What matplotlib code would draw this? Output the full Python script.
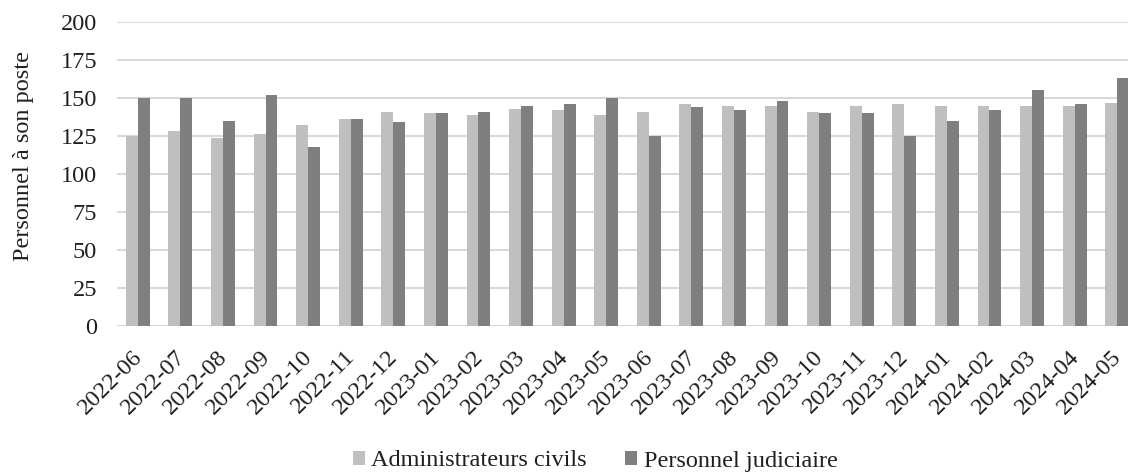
import matplotlib
matplotlib.use("Agg")
import matplotlib.pyplot as plt
import matplotlib.transforms as mtransforms
import numpy as np

months = ["2022-06", "2022-07", "2022-08", "2022-09", "2022-10", "2022-11", "2022-12",
          "2023-01", "2023-02", "2023-03", "2023-04", "2023-05", "2023-06", "2023-07",
          "2023-08", "2023-09", "2023-10", "2023-11", "2023-12", "2024-01", "2024-02",
          "2024-03", "2024-04", "2024-05"]
admin_civils = [125, 128, 124, 126, 132, 136, 141, 140, 139, 143, 142, 139, 141, 146,
                145, 145, 141, 145, 146, 145, 145, 145, 145, 147]
personnel_judiciaire = [150, 150, 135, 152, 118, 136, 134, 140, 141, 145, 146, 150, 125, 144,
                        142, 148, 140, 140, 125, 135, 142, 155, 146, 163]
yticks = [0, 25, 50, 75, 100, 125, 150, 175, 200]

plt.rcParams["font.family"] = ["Liberation Serif", "DejaVu Serif"]
FS = 17.5
TXT = "#1f1f1f"

fig = plt.figure(figsize=(11.28, 4.74), dpi=100)
ax = fig.add_axes([116.5 / 1128, 148 / 474, 1022 / 1128, 304 / 474])

x = np.arange(len(months))
w = 0.28
ax.bar(x - w / 2, admin_civils, w, color="#bfbfbf", label="Administrateurs civils", zorder=3)
ax.bar(x + w / 2, personnel_judiciaire, w, color="#7f7f7f", label="Personnel judiciaire", zorder=3)

ax.set_xlim(-0.5, len(months) - 0.5)
ax.set_ylim(0, 200)
ax.set_yticks(yticks)
ax.yaxis.grid(True, color="#d9d9d9", linewidth=1.5, zorder=0)
ax.tick_params(axis="y", length=0, pad=14, labelsize=FS, colors=TXT)
ax.tick_params(axis="x", length=0, pad=9, labelsize=FS, colors=TXT)
ax.set_xticks(x)
ax.set_xticklabels(months, rotation=45, ha="right", rotation_mode="anchor")
shift = mtransforms.ScaledTranslation(-6 / 100, -8 / 100, fig.dpi_scale_trans)
for lbl in ax.get_xticklabels():
    lbl.set_transform(lbl.get_transform() + shift)
for s in ax.spines.values():
    s.set_visible(False)

fig.text(24 / 1128, 1 - 156 / 474, "Personnel à son poste", rotation=90,
         ha="center", va="center", fontsize=FS, color=TXT)

fig.legend(loc="center", bbox_to_anchor=(595 / 1128, 13 / 474), ncol=2, frameon=False,
           fontsize=FS, handlelength=0.5, handleheight=0.5, handletextpad=0.25,
           columnspacing=1.6, labelcolor=TXT)

fig.savefig("out.png", dpi=100)
